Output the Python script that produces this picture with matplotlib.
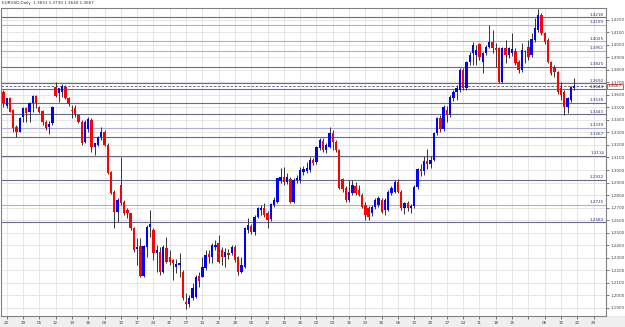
import matplotlib
matplotlib.use('Agg')
import matplotlib.pyplot as plt
import numpy as np

# daily EURUSD candles, 19 Mar .. 19 Nov (prices)
opens = [1.3625, 1.3513, 1.3572, 1.3479, 1.3346, 1.3306, 1.3425, 1.3492, 1.3465, 1.3532,
         1.3593, 1.3500, 1.3471, 1.3386, 1.3345, 1.3372, 1.3665, 1.3612, 1.3625, 1.3665,
         1.3572, 1.3479, 1.3492, 1.3439, 1.3386, 1.3226, 1.3330, 1.3399, 1.3187, 1.3200,
         1.3266, 1.3306, 1.3200, 1.2987, 1.2827, 1.2667, 1.2880, 1.2747, 1.2680, 1.2654,
         1.2535, 1.2370, 1.2394, 1.2155, 1.2389, 1.2543, 1.2522, 1.2335, 1.2349, 1.2189,
         1.2375, 1.2309, 1.2282, 1.2229, 1.2242, 1.2189, 1.1950, 1.1931, 1.1976, 1.1990,
         1.2155, 1.2149, 1.2216, 1.2330, 1.2309, 1.2389, 1.2420, 1.2362, 1.2309, 1.2341,
         1.2341, 1.2389, 1.2309, 1.2189, 1.2229, 1.2522, 1.2554, 1.2508, 1.2628, 1.2681,
         1.2695, 1.2654, 1.2606, 1.2721, 1.2747, 1.2915, 1.2947, 1.2907, 1.2926, 1.2747,
         1.2920, 1.2920, 1.2987, 1.2995, 1.3000, 1.3080, 1.3066, 1.3173, 1.3234, 1.3160,
         1.3186, 1.3293, 1.3226, 1.3160, 1.2926, 1.2854, 1.2761, 1.2820, 1.2872, 1.2840,
         1.2801, 1.2721, 1.2694, 1.2654, 1.2708, 1.2721, 1.2761, 1.2681, 1.2681, 1.2814,
         1.2827, 1.2907, 1.2827, 1.2694, 1.2734, 1.2694, 1.2714, 1.2867, 1.3010, 1.2990,
         1.3070, 1.3050, 1.3080, 1.3293, 1.3412, 1.3330, 1.3477, 1.3437, 1.3571, 1.3624,
         1.3637, 1.3797, 1.3651, 1.3863, 1.3930, 1.3916, 1.4004, 1.3863, 1.3930, 1.3983,
         1.4023, 1.3970, 1.3970, 1.3704, 1.3970, 1.3916, 1.3930, 1.3951, 1.3863, 1.3797,
         1.3950, 1.3983, 1.3916, 1.4036, 1.4116, 1.4235, 1.4089, 1.4036, 1.3863, 1.3824,
         1.3784, 1.3651, 1.3624, 1.3504, 1.3558, 1.3651]
highs = [1.3638, 1.3577, 1.3580, 1.3485, 1.3359, 1.3425, 1.3505, 1.3505, 1.3545, 1.3598,
         1.3598, 1.3513, 1.3479, 1.3399, 1.3390, 1.3511, 1.3700, 1.3657, 1.3684, 1.3675,
         1.3580, 1.3518, 1.3519, 1.3450, 1.3399, 1.3399, 1.3420, 1.3418, 1.3213, 1.3270,
         1.3346, 1.3319, 1.3215, 1.2995, 1.2840, 1.2774, 1.3107, 1.2760, 1.2694, 1.2660,
         1.2545, 1.2455, 1.2455, 1.2400, 1.2562, 1.2681, 1.2535, 1.2402, 1.2389, 1.2402,
         1.2463, 1.2362, 1.2290, 1.2290, 1.2336, 1.2200, 1.2016, 1.2003, 1.2096, 1.2162,
         1.2189, 1.2309, 1.2362, 1.2362, 1.2415, 1.2442, 1.2482, 1.2389, 1.2375, 1.2370,
         1.2400, 1.2400, 1.2315, 1.2309, 1.2545, 1.2615, 1.2570, 1.2641, 1.2708, 1.2721,
         1.2735, 1.2670, 1.2740, 1.2787, 1.2940, 1.3013, 1.3027, 1.2980, 1.2947, 1.2934,
         1.2960, 1.3027, 1.3030, 1.3066, 1.3106, 1.3095, 1.3195, 1.3253, 1.3253, 1.3213,
         1.3346, 1.3319, 1.3240, 1.3170, 1.2934, 1.2870, 1.2920, 1.2920, 1.2907, 1.2880,
         1.2815, 1.2747, 1.2710, 1.2720, 1.2775, 1.2790, 1.2775, 1.2775, 1.2840, 1.2870,
         1.2920, 1.2925, 1.2840, 1.2745, 1.2750, 1.2730, 1.2880, 1.3020, 1.3050, 1.3110,
         1.3166, 1.3110, 1.3300, 1.3420, 1.3440, 1.3520, 1.3510, 1.3600, 1.3640, 1.3677,
         1.3810, 1.3810, 1.3870, 1.3943, 1.4023, 1.3996, 1.4010, 1.3945, 1.3996, 1.4156,
         1.4116, 1.4010, 1.3980, 1.3985, 1.4036, 1.3985, 1.4089, 1.3970, 1.3876, 1.4010,
         1.3960, 1.4036, 1.4089, 1.4209, 1.4281, 1.4255, 1.4100, 1.4050, 1.3870, 1.3836,
         1.3790, 1.3700, 1.3640, 1.3580, 1.3670, 1.3730]
lows = [1.3505, 1.3492, 1.3460, 1.3300, 1.3266, 1.3300, 1.3386, 1.3386, 1.3386, 1.3465,
        1.3492, 1.3452, 1.3359, 1.3319, 1.3285, 1.3359, 1.3585, 1.3545, 1.3585, 1.3565,
        1.3513, 1.3418, 1.3425, 1.3372, 1.3200, 1.3213, 1.3300, 1.3147, 1.3120, 1.3190,
        1.3240, 1.3190, 1.2965, 1.2806, 1.2534, 1.2588, 1.2720, 1.2640, 1.2614, 1.2520,
        1.2349, 1.2240, 1.2149, 1.2149, 1.2309, 1.2468, 1.2282, 1.2189, 1.2162, 1.2176,
        1.2256, 1.2242, 1.2123, 1.2180, 1.2149, 1.1960, 1.1888, 1.1910, 1.1963, 1.1976,
        1.2069, 1.2144, 1.2200, 1.2256, 1.2256, 1.2362, 1.2256, 1.2242, 1.2229, 1.2290,
        1.2320, 1.2270, 1.2163, 1.2176, 1.2220, 1.2495, 1.2490, 1.2482, 1.2615, 1.2641,
        1.2628, 1.2535, 1.2590, 1.2707, 1.2740, 1.2894, 1.2880, 1.2890, 1.2739, 1.2740,
        1.2894, 1.2894, 1.2960, 1.2973, 1.2987, 1.3040, 1.3050, 1.3160, 1.3146, 1.3133,
        1.3173, 1.3160, 1.3146, 1.2846, 1.2827, 1.2745, 1.2747, 1.2801, 1.2801, 1.2790,
        1.2700, 1.2601, 1.2601, 1.2630, 1.2690, 1.2705, 1.2655, 1.2640, 1.2670, 1.2800,
        1.2815, 1.2815, 1.2680, 1.2650, 1.2670, 1.2660, 1.2700, 1.2850, 1.2950, 1.2960,
        1.3010, 1.3020, 1.3070, 1.3280, 1.3300, 1.3310, 1.3384, 1.3420, 1.3550, 1.3558,
        1.3620, 1.3640, 1.3640, 1.3836, 1.3836, 1.3836, 1.3876, 1.3775, 1.3915, 1.3970,
        1.3937, 1.3824, 1.3695, 1.3695, 1.3850, 1.3890, 1.3910, 1.3840, 1.3770, 1.3783,
        1.3850, 1.3876, 1.3900, 1.4020, 1.4100, 1.4075, 1.4005, 1.3850, 1.3757, 1.3744,
        1.3610, 1.3558, 1.3437, 1.3451, 1.3545, 1.3640]
closes = [1.3532, 1.3572, 1.3465, 1.3332, 1.3306, 1.3412, 1.3492, 1.3452, 1.3532, 1.3593,
          1.3532, 1.3465, 1.3386, 1.3338, 1.3365, 1.3505, 1.3593, 1.3652, 1.3673, 1.3572,
          1.3524, 1.3470, 1.3444, 1.3386, 1.3213, 1.3386, 1.3407, 1.3187, 1.3213, 1.3266,
          1.3306, 1.3200, 1.2973, 1.2814, 1.2667, 1.2760, 1.2734, 1.2654, 1.2654, 1.2534,
          1.2362, 1.2390, 1.2155, 1.2394, 1.2543, 1.2570, 1.2335, 1.2360, 1.2189, 1.2383,
          1.2269, 1.2269, 1.2256, 1.2251, 1.2256, 1.1976, 1.1931, 1.1976, 1.2056, 1.2149,
          1.2117, 1.2229, 1.2322, 1.2309, 1.2402, 1.2402, 1.2269, 1.2309, 1.2349, 1.2322,
          1.2389, 1.2282, 1.2189, 1.2242, 1.2535, 1.2562, 1.2508, 1.2628, 1.2695, 1.2695,
          1.2641, 1.2601, 1.2729, 1.2761, 1.2934, 1.2941, 1.2907, 1.2947, 1.2747, 1.2920,
          1.2934, 1.3000, 1.3005, 1.3013, 1.3080, 1.3059, 1.3186, 1.3239, 1.3160, 1.3200,
          1.3293, 1.3226, 1.3160, 1.2854, 1.2846, 1.2761, 1.2827, 1.2880, 1.2814, 1.2801,
          1.2708, 1.2641, 1.2628, 1.2708, 1.2761, 1.2774, 1.2668, 1.2761, 1.2827, 1.2854,
          1.2907, 1.2827, 1.2694, 1.2734, 1.2694, 1.2714, 1.2867, 1.3010, 1.2990, 1.3070,
          1.3050, 1.3080, 1.3293, 1.3412, 1.3330, 1.3504, 1.3437, 1.3584, 1.3624, 1.3651,
          1.3797, 1.3651, 1.3863, 1.3916, 1.3996, 1.3957, 1.3903, 1.3930, 1.3983, 1.4023,
          1.3970, 1.3957, 1.3704, 1.3970, 1.3916, 1.3970, 1.3965, 1.3850, 1.3797, 1.3957,
          1.3940, 1.3903, 1.4041, 1.4129, 1.4235, 1.4089, 1.4023, 1.3863, 1.3770, 1.3784,
          1.3624, 1.3600, 1.3504, 1.3571, 1.3664, 1.3667]

week_labels = ['22', '29', '05', '12', '19', '26', '03', '10', '17', '24', '31', '07',
               '14', '21', '28', '05', '12', '19', '26', '02', '09', '16', '23', '30',
               '06', '13', '20', '27', '04', '11', '18', '25', '', '08', '15', '22', '29']

levels = [1.4218, 1.4159, 1.4025, 1.3951, 1.3825, 1.3692, 1.3644, 1.3538,
          1.3443, 1.3339, 1.3267, 1.3114, 1.2922, 1.2725, 1.2583]
light_levels = [1.4159, 1.4025, 1.3951, 1.3339, 1.2725]
last_price = 1.3667
title = 'EURUSD,Daily  1.3651 1.3730 1.3640 1.3667'

o = np.array(opens)
h = np.array(highs)
l = np.array(lows)
c = np.array(closes)
x = np.arange(len(c)) - 1   # 0 = Monday 22 Mar

fig = plt.figure(figsize=(6.25, 3.27), dpi=100)
fig.patch.set_facecolor('white')
fig.patches.append(plt.Rectangle((0, 0), 1, 0.034, transform=fig.transFigure,
                                 color='#efefef', zorder=-5))
ax = fig.add_axes([0.0024, 0.0336, 0.9672, 0.9419])
ax.set_facecolor('white')

ax.set_xlim(-1.6, 183.8)
ax.set_ylim(1.1836, 1.4292)

ax.set_xticks(np.arange(len(week_labels)) * 5)
ax.set_xticklabels(week_labels)
ax.set_yticks(np.arange(1.19, 1.4201, 0.01))
ax.set_yticklabels(['%.4f' % v for v in np.arange(1.19, 1.4201, 0.01)])
ax.yaxis.tick_right()
ax.tick_params(axis='both', labelsize=3, length=2, width=0.5, colors='#444444', pad=1.5)
ax.grid(True, color='#e2e2e2', lw=0.6)
ax.set_axisbelow(True)
for s in ax.spines.values():
    s.set_color('#808080')
    s.set_linewidth(0.8)

# support / resistance lines
for lv in levels:
    col = '#aeaede' if lv in light_levels else '#6a6a8c'
    ax.axhline(lv, color=col, lw=0.8, zorder=1)
    ax.text(183.2, lv + 0.0003, '%.4f' % lv, ha='right', va='bottom',
            fontsize=3, color='#30307a', zorder=4)
ax.axhline(last_price, color='#555566', lw=0.6, ls=(0, (3, 2)), zorder=1)

# candles
up = c >= o
ax.vlines(x, l, h, color='#333333', lw=0.7, zorder=2)
ax.bar(x, np.maximum(np.abs(c - o), 0.0005), bottom=np.minimum(o, c), width=0.72,
       color=np.where(up, '#0000ff', '#ff0000'), lw=0, zorder=3)

ax.text(1.003, last_price, '%.4f' % last_price, transform=ax.get_yaxis_transform(),
        fontsize=3, va='center', ha='left', color='#333333',
        bbox=dict(boxstyle='square,pad=0.2', fc='white', ec='#ff0000', lw=0.5))

fig.text(0.004, 0.996, title, fontsize=3, va='top', ha='left', color='#333333')

fig.savefig('out.png', dpi=100)
